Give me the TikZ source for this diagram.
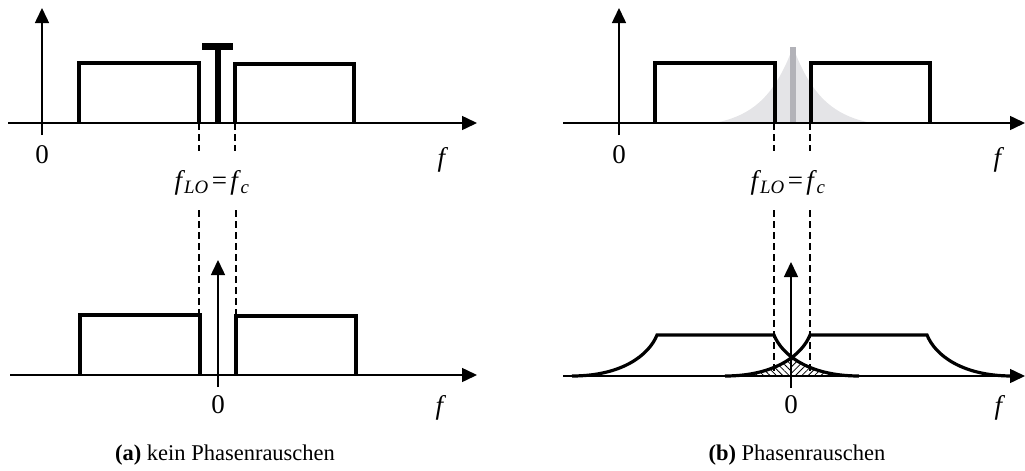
\documentclass[tikz,border=0pt]{standalone}
\usepackage{fontspec}
\setmainfont{Liberation Serif}
\usetikzlibrary{arrows.meta,patterns.meta}

\definecolor{noisegray}{RGB}{228,228,231}
\definecolor{spikegray}{RGB}{178,178,184}

\newcommand{\flabel}{\textit{f}\textsubscript{\kern-0.06em\textit{LO}}\kern0.12em=\kern0.12em\textit{f}\textsubscript{\kern-0.03em\textit{c}}}

\begin{document}
\begin{tikzpicture}[x=1pt,y=-1pt,
    axis/.style={line width=1.5pt,-{Triangle[length=15pt,width=14pt]}},
    band/.style={line width=3.2pt,line join=miter},
    guide/.style={line width=1.2pt,dash pattern=on 7pt off 4pt},
    lbl/.style={font=\fontsize{27}{31}\selectfont,inner sep=0pt},
    subcap/.style={font=\fontsize{22.5}{26}\selectfont,inner sep=0pt}]
    \useasboundingbox (0,0) rectangle (1025,471);

    % (a) top: passband with LO carrier
    \draw[axis] (8,123) -- (477,123);
    \draw[axis] (42,135) -- (42,8);
    \draw[band] (79,123) -- (79,63) -- (199,63) -- (199,123);
    \draw[band] (235,123) -- (235,64) -- (354,64) -- (354,123);
    \draw[line width=6pt] (218,123) -- (218,46);
    \draw[line width=7pt] (202,46.5) -- (233,46.5);
    \draw[guide] (199,123) -- (199,151);
    \draw[guide] (235,123) -- (235,151);
    \node[lbl] (zeroA) at (42,155) {0};
    \node[lbl] (freqA) at (443,160) {\textit{f}};
    \node[lbl] (loA) at (212,183) {\flabel};

    % (a) bottom: baseband
    \draw[guide] (199,210) -- (199,315);
    \draw[guide] (236,210) -- (236,316);
    \draw[axis] (10,375) -- (477,375);
    \draw[axis] (218,387) -- (218,260);
    \draw[band] (80,375) -- (80,315) -- (200,315) -- (200,375);
    \draw[band] (236,375) -- (236,316) -- (356,316) -- (356,375);
    \node[lbl] (zeroB) at (218,405) {0};
    \node[lbl] (freqB) at (441,408) {\textit{f}};
    \node[subcap] (capA) at (225,455) {\textbf{(a)} kein Phasenrauschen};

    % (b) top: LO with phase noise skirt
    \fill[noisegray] plot[domain=-77:77,samples=71]
        ({793+\x},{123-(82*exp(-abs(\x)/30)-6)}) -- cycle;
    \draw[spikegray,line width=5.5pt] (793,123) -- (793,47);
    \draw[axis] (563,123) -- (1025,123);
    \draw[axis] (619,135) -- (619,8);
    \draw[band] (655,123) -- (655,63) -- (775,63) -- (775,123);
    \draw[band] (811,123) -- (811,63) -- (930,63) -- (930,123);
    \draw[guide] (774,123) -- (774,151);
    \draw[guide] (810,123) -- (810,151);
    \node[lbl] (zeroC) at (619,155) {0};
    \node[lbl] (freqC) at (999,160) {\textit{f}};
    \node[lbl] (loB) at (788,183) {\flabel};

    % (b) bottom: overlapping skirts
    \begin{scope}
        \clip (700,376) -- (700,335) -- (774,335) .. controls (782,355) and (809,376) .. (859,376) -- cycle;
        \clip (884,376) -- (884,335) -- (810,335) .. controls (802,355) and (775,376) .. (725,376) -- cycle;
        \fill[pattern={Lines[angle=-45,distance=4.5pt,line width=0.8pt]}] (700,330) rectangle (792,377);
        \fill[pattern={Lines[angle=45,distance=4.5pt,line width=0.8pt]}] (792,330) rectangle (884,377);
    \end{scope}
    \draw[guide] (774,210) -- (774,376);
    \draw[guide] (810,210) -- (810,376);
    \draw[band] (572,376) .. controls (622,376) and (649,355) .. (657,335) -- (774,335)
        .. controls (782,355) and (809,376) .. (859,376);
    \draw[band] (725,376) .. controls (775,376) and (802,355) .. (810,335) -- (927,335)
        .. controls (935,355) and (962,376) .. (1012,376);
    \draw[axis] (563,376) -- (1025,376);
    \draw[axis] (791,388) -- (791,262);
    \node[lbl] (zeroD) at (791,405) {0};
    \node[lbl] (freqD) at (1000,408) {\textit{f}};
    \node[subcap] (capB) at (797,455) {\textbf{(b)} Phasenrauschen};
\end{tikzpicture}
\end{document}
